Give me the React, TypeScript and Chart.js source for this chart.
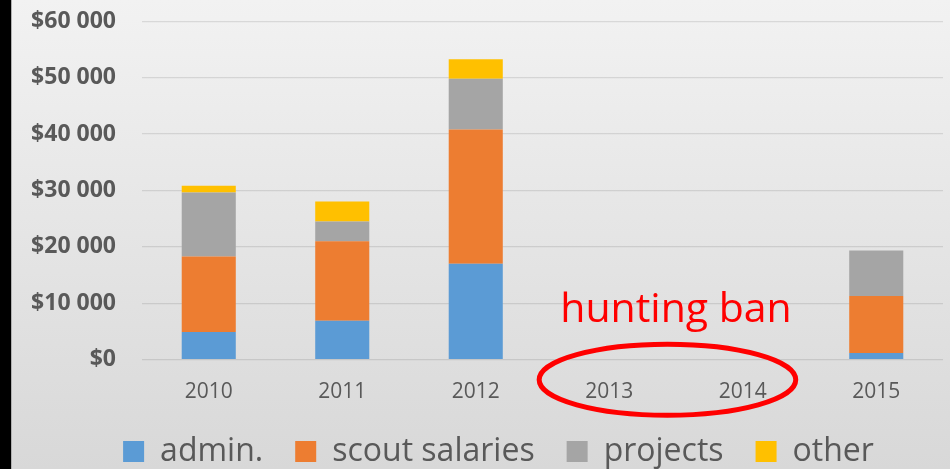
import { useEffect, useRef } from 'react';
import { Chart, registerables } from 'chart.js';

Chart.register(...registerables);

const YEARS = ['2010', '2011', '2012', '2013', '2014', '2015'];
const ADMIN = [4900, 6900, 17000, null, null, 1200];
const SCOUT_SALARIES = [13400, 14100, 23800, null, null, 10100];
const PROJECTS = [11350, 3500, 9000, null, null, 8050];
const OTHER = [1200, 3550, 3450, null, null, null];

const SERIES_NAMES = ['admin.', 'scout salaries', 'projects', 'other'];
const SERIES_COLORS = ['#5b9bd5', '#ed7d31', '#a5a5a5', '#ffc000'];

const Y_MIN = 0;
const Y_MAX = 60000;
const Y_STEP = 10000;

const ANNOTATION_TEXT = 'hunting ban';
const ANNOTATION_FROM = '2013';
const ANNOTATION_TO = '2014';
const ANNOTATION_TEXT_VALUE = 6600;

const FONT = "'Open Sans', sans-serif";
const TEXT_COLOR = '#595959';
const LEGEND_SHIFT = 27;

function formatDollars(v: number): string {
  const s = Math.round(v).toString().replace(/\B(?=(\d{3})+(?!\d))/g, ' ');
  return '$' + s;
}

const legendShiftPlugin = {
  id: 'legendShift',
  afterLayout(chart: any) {
    const lg = chart.legend;
    if (lg) {
      lg.left += LEGEND_SHIFT;
      lg.right += LEGEND_SHIFT;
    }
  },
};

const annotationPlugin = {
  id: 'huntingBan',
  afterDraw(chart: any) {
    const { ctx, scales, chartArea } = chart;
    const xs = scales.x;
    const ys = scales.y;
    const i1 = YEARS.indexOf(ANNOTATION_FROM);
    const i2 = YEARS.indexOf(ANNOTATION_TO);
    const p1 = xs.getPixelForValue(i1);
    const p2 = xs.getPixelForValue(i2);
    const mid = (p1 + p2) / 2;
    const cat = p2 - p1;
    ctx.save();
    ctx.fillStyle = '#ff0000';
    ctx.font = `41px ${FONT}`;
    ctx.textAlign = 'center';
    ctx.textBaseline = 'alphabetic';
    ctx.fillText(ANNOTATION_TEXT, mid, ys.getPixelForValue(ANNOTATION_TEXT_VALUE));
    ctx.beginPath();
    ctx.ellipse(mid - cat * 0.064, chartArea.bottom + 20, cat * 0.961, 35.5, 0, 0, Math.PI * 2);
    ctx.strokeStyle = '#ff0000';
    ctx.lineWidth = 5;
    ctx.stroke();
    ctx.restore();
  },
};

export default function App() {
  const ref = useRef<HTMLCanvasElement>(null);
  useEffect(() => {
    if (!ref.current) return;
    const seriesData = [ADMIN, SCOUT_SALARIES, PROJECTS, OTHER];
    const chart = new Chart(ref.current, {
      type: 'bar',
      data: {
        labels: YEARS,
        datasets: SERIES_NAMES.map((name, i) => ({
          label: name,
          data: seriesData[i],
          backgroundColor: SERIES_COLORS[i],
          borderWidth: 0,
          categoryPercentage: 1,
          barPercentage: 0.405,
        })),
      },
      options: {
        animation: false,
        responsive: false,
        devicePixelRatio: 1,
        layout: { padding: { top: 21.3, left: 0, right: 7, bottom: -8.5 } },
        plugins: {
          tooltip: { enabled: false },
          legend: {
            position: 'bottom',
            labels: {
              color: TEXT_COLOR,
              font: { family: FONT, size: 32 },
              boxWidth: 21,
              boxHeight: 21,
              padding: 32,
            },
          },
        },
        scales: {
          x: {
            stacked: true,
            grid: { display: false, drawTicks: false },
            border: { display: false },
            ticks: { color: TEXT_COLOR, font: { family: FONT, size: 21 }, padding: 20 },
            afterFit: (s: any) => { s.height = 43.8; },
          },
          y: {
            stacked: true,
            min: Y_MIN,
            max: Y_MAX,
            ticks: {
              stepSize: Y_STEP,
              color: TEXT_COLOR,
              font: { family: FONT, size: 23, weight: 'bold' },
              padding: 0,
              callback: (v: any) => formatDollars(Number(v)),
            },
            grid: {
              color: 'rgba(0,0,0,0.1)',
              lineWidth: 1.3,
              drawTicks: true,
              tickLength: 26,
              tickColor: 'rgba(0,0,0,0)',
            },
            border: { display: false },
            afterFit: (s: any) => { s.width = 142; },
          },
        },
      },
      plugins: [legendShiftPlugin, annotationPlugin],
    });
    return () => chart.destroy();
  }, []);
  return (
    <div
      style={{
        position: 'fixed',
        left: 0,
        top: 0,
        width: 950,
        height: 469,
        overflow: 'hidden',
        background:
          'linear-gradient(to right, #000 0px, #000 11px, #b0b0b0 11px, #b0b0b0 12px, transparent 12px), linear-gradient(#f2f2f2, #d8d8d8)',
      }}
    >
      <canvas ref={ref} width={950} height={469} style={{ display: 'block' }} />
    </div>
  );
}
